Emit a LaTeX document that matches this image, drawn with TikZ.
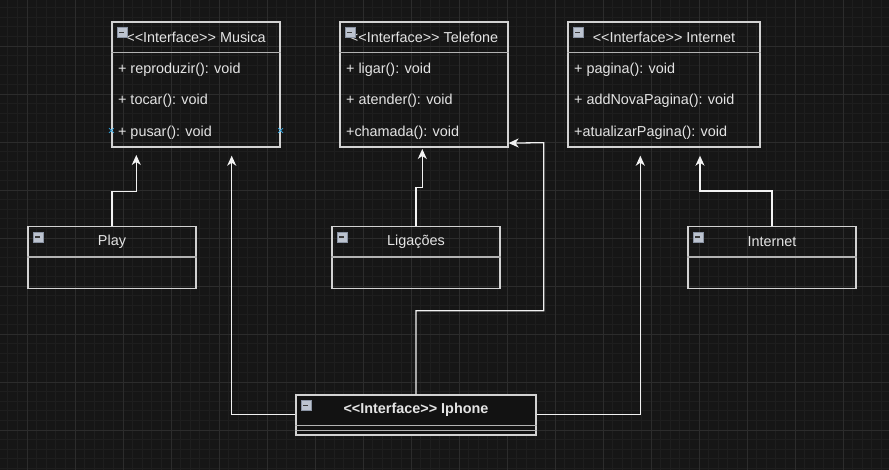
\documentclass[tikz,border=0pt]{standalone}
\usepackage{fontspec}
\setmainfont{Liberation Sans}
\usetikzlibrary{arrows.meta,shapes.misc}

\definecolor{bg}{HTML}{161616}
\definecolor{gridminor}{HTML}{1E1E1E}
\definecolor{gridmajor}{HTML}{2C2C2C}
\definecolor{edge}{HTML}{D2D2D2}
\definecolor{wire}{HTML}{F2F2F2}
\definecolor{txt}{HTML}{E4E4E4}
\definecolor{icfill}{HTML}{BCC3CF}
\definecolor{icbd}{HTML}{8A93A3}
\definecolor{icmin}{HTML}{3A3A3A}
\definecolor{hint}{HTML}{2FA4E0}

\newcommand\ltlt{<\kern0pt<}
\newcommand\gtgt{>\kern0pt>}
% three member rows of an interface box
\newcommand\members[4]{%
  \node[mem] (#1-m1) at ([shift={(6.5pt,-48pt)}]#1.north west) {#2};
  \node[mem] (#1-m2) at ([shift={(6.5pt,-79.5pt)}]#1.north west) {#3};
  \node[mem] (#1-m3) at ([shift={(6.5pt,-111pt)}]#1.north west) {#4};}

\begin{document}
\begin{tikzpicture}[x=1pt,y=-1pt,font=\fontsize{14.4}{17}\selectfont,text=txt,
  arr/.style={draw=wire,line width=1.3pt,-{Stealth[length=10pt,width=9pt,inset=3pt,fill=wire]}},
  mem/.style={anchor=west,inner sep=0pt}]
  \tikzstyle{umlbox}=[draw=edge,line width=1.2pt,inner sep=0pt,minimum width=168pt]
  \tikzstyle{iface}=[umlbox,minimum height=125pt]
  \tikzstyle{cls}=[umlbox,minimum height=62pt]
  \tikzstyle{sep}=[draw=edge!85!black,line width=1.2pt]
  \tikzstyle{minbox}=[draw=icbd,fill=icfill,minimum size=10pt,inner sep=0pt,line width=0.6pt,
    path picture={\draw[icmin,line width=1.3pt] ([xshift=2.5pt]path picture bounding box.west)
      -- ([xshift=-2.5pt]path picture bounding box.east);}]

  % background and grid
  \fill[bg] (0,0) rectangle (889,470);
  \useasboundingbox (0,0) rectangle (889,470);
  \foreach \i in {0,...,92} \draw[gridminor,line width=0.8pt] (7.8+9.6*\i,0) -- ++(0,470);
  \foreach \i in {0,...,48} \draw[gridminor,line width=0.8pt] (0,7.6+9.6*\i) -- ++(889,0);
  \foreach \i in {0,...,18} \draw[gridmajor,line width=0.9pt] (27+48*\i,0) -- ++(0,470);
  \foreach \i in {0,...,8} \draw[gridmajor,line width=0.9pt] (0,46+48*\i) -- ++(889,0);

  % interfaces
  \node[iface] (musica)   at (196,84.5) {};
  \node[iface] (telefone) at (424,84.5) {};
  \node[iface,minimum width=192pt] (internet) at (664,84.5) {};
  % classes
  \node[cls] (play)     at (112,257.7) {};
  \node[cls] (ligacoes) at (416,257.7) {};
  \node[cls] (net)      at (772,257.7) {};
  \node[umlbox,fill=bg!80!black,minimum width=240pt,minimum height=40pt] (iphone) at (416,415) {};

  \foreach \b in {musica,telefone,internet,play,ligacoes,net,iphone}
    \draw[sep] ([yshift=-31pt]\b.north west) -- ([yshift=-31pt]\b.north east);
  \draw[sep] ([yshift=5pt]iphone.south west) -- ([yshift=5pt]iphone.south east);

  \node (musica-t)   at ([yshift=-15.5pt]musica.north)   {\ltlt Interface\gtgt{} Musica};
  \node (telefone-t) at ([yshift=-15.5pt]telefone.north) {\ltlt Interface\gtgt{} Telefone};
  \node (internet-t) at ([yshift=-15.5pt]internet.north) {\ltlt Interface\gtgt{} Internet};
  \node (play-t)     at ([yshift=-15.5pt]play.north)     {Play};
  \node (ligacoes-t) at ([yshift=-15.5pt]ligacoes.north) {Ligações};
  \node (net-t)      at ([yshift=-15.5pt]net.north)      {Internet};
  \node[font=\fontsize{14.4}{17}\selectfont\bfseries] (iphone-t) at ([yshift=-15.5pt]iphone.north) {\ltlt Interface\gtgt{} Iphone};

  \members{musica}{+ reproduzir(): void}{+ tocar(): void}{+ pusar(): void}
  \members{telefone}{+ ligar(): void}{+ atender(): void}{+chamada(): void}
  \members{internet}{+ pagina(): void}{+ addNovaPagina(): void}{+atualizarPagina(): void}

  \foreach \b in {musica,telefone,internet,play,ligacoes,net,iphone}
    \node[minbox] (\b-ic) at ([shift={(10.5pt,-11pt)}]\b.north west) {};

  \node[cross out,draw=hint,minimum size=4pt,inner sep=0pt,line width=0.8pt] (musica-x1) at (musica.west |- 0,130.5) {};
  \node[cross out,draw=hint,minimum size=4pt,inner sep=0pt,line width=0.8pt] (musica-x2) at (musica.east |- 0,130.5) {};

  % arrow ends
  \coordinate (mus-a) at (136.3,155);
  \coordinate (mus-b) at (231.7,155.7);
  \coordinate (tel-a) at (422.3,149);
  \coordinate (tel-b) at ([yshift=4.5pt]telefone.south east);
  \coordinate (net-a) at (640.3,155.7);
  \coordinate (net-b) at (700,155.7);

  \draw[arr] (play.north) -- (play.north |- 0,191.3) -| (mus-a);
  \draw[arr] (ligacoes.north) -- (ligacoes.north |- 0,187.3) -| (tel-a);
  \draw[arr] (net.north) -- (net.north |- 0,191) -| (net-b);
  \draw[arr] ([yshift=0.7pt]iphone.west) -| (mus-b);
  \draw[arr] ([yshift=0.7pt]iphone.east) -| (net-a);
  \draw[arr] (iphone.north) -- (iphone.north |- 0,310.7) -| (543.7,142.7) -- (tel-b);
\end{tikzpicture}
\end{document}
